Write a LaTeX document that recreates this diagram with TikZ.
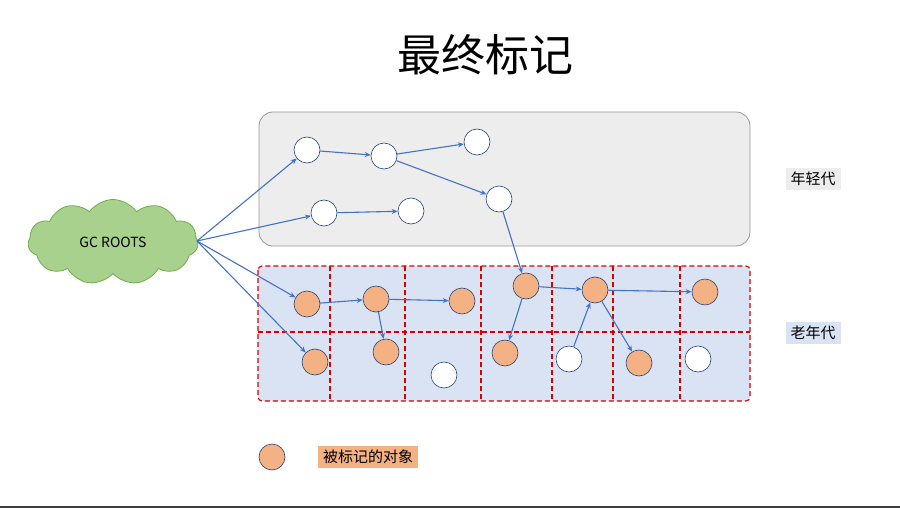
\documentclass[tikz,border=0pt]{standalone}
\usepackage{fontspec}
\setmainfont{Noto Sans CJK SC}
\usetikzlibrary{shapes.symbols,arrows.meta}
\definecolor{org}{HTML}{F4B183}
\definecolor{blu}{HTML}{4472C4}
\definecolor{grn}{HTML}{A9D18E}
\definecolor{gfr}{HTML}{70AD47}
\definecolor{lb}{HTML}{DAE3F3}
\tikzset{
 obj/.style={circle,draw=blu!60!black,line width=0.6pt,minimum size=26pt,inner sep=0pt},
 mk/.style={obj,fill=org},
 wt/.style={obj,fill=white},
 ar/.style={draw=blu,line width=1.1pt,-{Stealth[length=6pt,width=5pt]}},
 grid/.style={draw=red!85!black,line width=1.1pt,dash pattern=on 5pt off 3pt},
 lab/.style={inner xsep=5pt,inner ysep=4pt,font=\fontsize{15}{18}\selectfont}
}
\begin{document}
\begin{tikzpicture}[x=1pt,y=-1pt]
\useasboundingbox (0,0) rectangle (900,508);
\fill[white] (0,0) rectangle (900,508);
\draw[black!75,line width=2pt] (0,507) -- (900,507);
\node (title) at (485,55) {\fontsize{44}{50}\selectfont 最终标记};
% young gen
\draw[rounded corners=14pt,fill=black!7,draw=black!40,line width=0.8pt] (259,112) rectangle (750,246);
% old gen
\fill[lb,rounded corners=4pt] (258,266) rectangle (750,401);
\draw[grid,rounded corners=4pt] (258,266) rectangle (750,401);
\draw[grid] (258,332) -- (750,332);
\foreach \x in {330,405,481,552,613,680} \draw[grid] (\x,266) -- (\x,401);
\node[lab,fill=black!7] (yl) at (813,179) {年轻代};
\node[lab,fill=lb] (ol) at (813,333) {老年代};
\node[cloud,cloud puffs=11,cloud puff arc=110,aspect=2,draw=gfr,fill=grn,line width=0.8pt,minimum width=170pt,minimum height=85pt,font=\fontsize{14}{16}\selectfont] (gc) at (113,242) {GC ROOTS};
\coordinate (gcr) at (197,241);
\node[wt] (y1) at (307,150) {};
\node[wt] (y2) at (384,156) {};
\node[wt] (y3) at (477,142) {};
\node[wt] (y4) at (499,199) {};
\node[wt] (y5) at (324,213) {};
\node[wt] (y6) at (411,211) {};
\node[mk] (a1) at (307,304) {};
\node[mk] (a2) at (376,299) {};
\node[mk] (a3) at (462,301) {};
\node[mk] (a4) at (526,286) {};
\node[mk] (a5) at (595,290) {};
\node[mk] (a6) at (705,292) {};
\node[mk] (b1) at (315,362) {};
\node[mk] (b2) at (386,352) {};
\node[wt] (b3) at (444,375) {};
\node[mk] (b4) at (505,353) {};
\node[wt] (b5) at (569,359) {};
\node[mk] (b6) at (639,363) {};
\node[wt] (b7) at (698,359) {};
\foreach \t in {y1,y5,a1,b1} \draw[ar] (gcr) -- (\t);
\foreach \s/\t in {y1/y2,y2/y3,y2/y4,y5/y6,y4/a4,a1/a2,a2/a3,a2/b2,a4/a5,a4/b4,a5/a6,a5/b6,b5/a5} \draw[ar] (\s) -- (\t);
\node[mk] (leg) at (272,457) {};
\node[lab,fill=org] (legt) at (368,457) {被标记的对象};
\end{tikzpicture}
\end{document}
